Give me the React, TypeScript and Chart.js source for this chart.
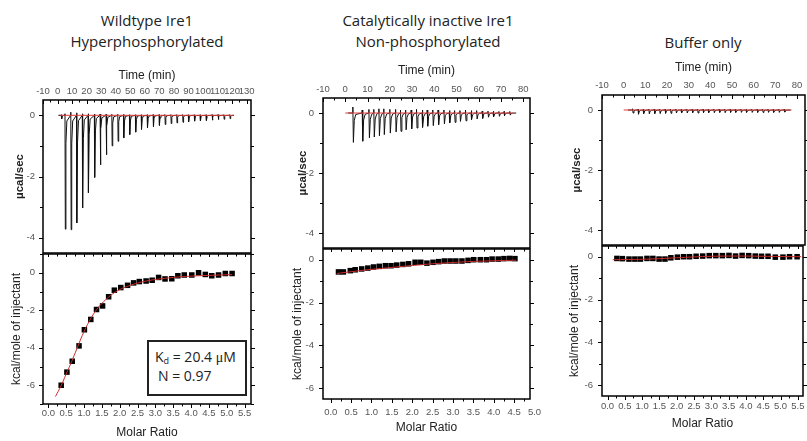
import React, { useEffect, useRef } from 'react';
import { Chart, registerables } from 'chart.js';

Chart.register(...registerables);

// ---------------- DATA ----------------
// Panel 1: Wildtype Ire1, hyperphosphorylated
const P1_TIMES = [2.6, 5, 9, 13, 17, 21, 25.3, 29.1, 33.2, 37.2, 41.3, 45.3, 49.4, 53.5, 57.5, 61.6, 65.6, 69.7, 73.7, 77.8, 81.8, 85.9, 89.9, 94, 98, 102.1, 106.1, 110.2, 114.2, 118.3];
const P1_PEAKS = [-0.12, -3.72, -3.74, -3.52, -3.03, -2.53, -2.03, -1.62, -1.29, -1.0, -0.85, -0.74, -0.63, -0.55, -0.46, -0.41, -0.37, -0.33, -0.3, -0.27, -0.25, -0.23, -0.21, -0.19, -0.18, -0.17, -0.16, -0.14, -0.13, -0.11];
const P1_BLIPS = [0.02, 0.05, 0.1, 0.08, 0.05, 0.05, 0.04, 0.04, 0.03, 0.03, 0.03, 0.03, 0.02, 0.02, 0.02, 0.02, 0.02, 0.02, 0.02, 0.02, 0.02, 0.02, 0.02, 0.02, 0.02, 0.02, 0.02, 0.02, 0.02, 0.02];
const P1_BASE = [2, 121];
const P1_MR = [0.36, 0.52, 0.67, 0.86, 1.01, 1.19, 1.35, 1.52, 1.69, 1.85, 2.03, 2.22, 2.39, 2.55, 2.74, 2.91, 3.09, 3.27, 3.46, 3.63, 3.81, 4.02, 4.21, 4.4, 4.58, 4.77, 4.96, 5.15];
const P1_HEAT = [-6.0, -5.3, -4.72, -3.9, -3.04, -2.49, -1.96, -1.77, -1.28, -0.93, -0.79, -0.67, -0.54, -0.47, -0.44, -0.4, -0.25, -0.33, -0.32, -0.16, -0.12, -0.12, 0.0, -0.09, -0.16, -0.12, -0.04, -0.04];
const P1_FIT_X = [0.2, 0.35, 0.5, 0.65, 0.8, 0.95, 1.1, 1.25, 1.4, 1.6, 1.8, 2.0, 2.25, 2.5, 2.75, 3.0, 3.5, 4.0, 4.5, 5.15];
const P1_FIT_Y = [-6.6, -6.05, -5.4, -4.75, -4.05, -3.35, -2.75, -2.25, -1.85, -1.45, -1.13, -0.9, -0.7, -0.55, -0.44, -0.36, -0.25, -0.18, -0.14, -0.1];

// Panel 2: Catalytically inactive Ire1, non-phosphorylated
const P2_TIMES = [3.3, 7.5, 10.5, 12.7, 15, 17.2, 19.9, 22.5, 24.7, 27, 29.5, 31.9, 34.5, 36.7, 39.2, 41.6, 44.2, 46.7, 49, 51.4, 53.9, 56.5, 58.9, 61.4, 64, 66.4, 68.9, 71.2, 73.8];
const P2_PEAKS = [-0.98, -0.94, -0.83, -0.8, -0.76, -0.72, -0.67, -0.63, -0.61, -0.56, -0.53, -0.5, -0.48, -0.44, -0.42, -0.39, -0.36, -0.33, -0.31, -0.28, -0.26, -0.22, -0.2, -0.18, -0.14, -0.13, -0.11, -0.09, -0.07];
const P2_BLIPS = [0.2, 0.1, 0.12, 0.12, 0.14, 0.14, 0.12, 0.12, 0.1, 0.1, 0.1, 0.12, 0.1, 0.1, 0.1, 0.1, 0.1, 0.08, 0.08, 0.08, 0.1, 0.08, 0.08, 0.06, 0.06, 0.06, 0.05, 0.05, 0.05];
const P2_BASE = [0, 75.5];
const P2_MR = [0.19, 0.31, 0.48, 0.6, 0.76, 0.91, 1.05, 1.19, 1.34, 1.48, 1.62, 1.77, 1.91, 2.07, 2.21, 2.36, 2.51, 2.65, 2.79, 2.93, 3.07, 3.22, 3.37, 3.51, 3.67, 3.82, 3.96, 4.11, 4.25, 4.39, 4.52];
const P2_HEAT = [-0.57, -0.57, -0.51, -0.47, -0.43, -0.39, -0.34, -0.31, -0.28, -0.28, -0.25, -0.22, -0.19, -0.12, -0.12, -0.16, -0.12, -0.09, -0.06, -0.06, -0.06, -0.06, -0.03, 0.0, 0.0, 0.0, 0.03, 0.03, 0.05, 0.06, 0.05];
const P2_FIT_X = [0.15, 0.5, 1.0, 1.5, 2.0, 2.5, 3.0, 3.5, 4.0, 4.55];
const P2_FIT_Y = [-0.64, -0.56, -0.45, -0.36, -0.27, -0.19, -0.13, -0.08, -0.05, -0.02];

// Panel 3: Buffer only
const P3_TIMES = [4.0, 6.5, 9.0, 11.5, 14.0, 16.5, 19.0, 21.5, 24.0, 26.5, 29.0, 31.5, 34.0, 36.5, 39.0, 41.5, 44.0, 46.5, 49.0, 51.5, 54.0, 56.5, 59.0, 61.5, 64.0, 66.5, 69.0, 71.5, 74.0];
const P3_PEAKS = [-0.1, -0.14, -0.12, -0.13, -0.12, -0.12, -0.11, -0.11, -0.1, -0.1, -0.1, -0.09, -0.1, -0.09, -0.09, -0.09, -0.08, -0.09, -0.08, -0.08, -0.08, -0.08, -0.08, -0.08, -0.08, -0.08, -0.08, -0.08, -0.07];
const P3_BLIPS = [0.04, 0.03, 0.03, 0.03, 0.03, 0.03, 0.03, 0.03, 0.03, 0.03, 0.03, 0.03, 0.03, 0.03, 0.03, 0.03, 0.03, 0.03, 0.03, 0.03, 0.03, 0.03, 0.03, 0.03, 0.03, 0.03, 0.03, 0.03, 0.03];
const P3_BASE = [0, 77.5];
const P3_MR = [0.27, 0.43, 0.62, 0.79, 0.95, 1.14, 1.31, 1.49, 1.66, 1.83, 2.02, 2.2, 2.37, 2.56, 2.75, 2.94, 3.13, 3.32, 3.51, 3.7, 3.89, 4.08, 4.27, 4.45, 4.64, 4.85, 5.07, 5.26, 5.48];
const P3_HEAT = [-0.08, -0.09, -0.11, -0.11, -0.11, -0.08, -0.08, -0.11, -0.11, -0.05, -0.02, 0, 0, 0.02, 0.03, 0.05, 0.05, 0.05, 0.06, 0.03, 0.06, 0.05, 0.03, 0.02, 0.02, -0.02, -0.02, 0, 0];
const P3_FIT_X = [0.15, 0.6, 1.0, 1.5, 2.0, 2.5, 3.0, 3.5, 4.0, 4.5, 5.0, 5.6];
const P3_FIT_Y = [-0.14, -0.13, -0.12, -0.09, -0.05, -0.01, 0.02, 0.03, 0.03, 0.02, 0.01, 0.0];

// Tick labels
const TIME_TICKS_130 = [-10, 0, 10, 20, 30, 40, 50, 60, 70, 80, 90, 100, 110, 120, 130];
const TIME_TICKS_80 = [-10, 0, 10, 20, 30, 40, 50, 60, 70, 80];
const RAW_TICKS = [-4, -2, 0];
const HEAT_TICKS = [-6, -4, -2, 0];
const MR_TICKS_55 = [0, 0.5, 1, 1.5, 2, 2.5, 3, 3.5, 4, 4.5, 5, 5.5];
const MR_TICKS_50 = [0, 0.5, 1, 1.5, 2, 2.5, 3, 3.5, 4, 4.5, 5];

// ---------------- helpers ----------------
const SANS = '"Liberation Sans", Arial, sans-serif';
const TICK_SIZE = 9.5;
const TITLE_SIZE = 12;
const TICK_LH = TICK_SIZE * 1.2;
const TITLE_LH = TITLE_SIZE * 1.2;

function buildTrace(times: number[], peaks: number[], blips: number[]) {
  const pts: { x: number; y: number }[] = [{ x: times[0] - 2, y: 0 }];
  times.forEach((t, i) => {
    pts.push({ x: t, y: 0 });
    pts.push({ x: t + 0.12, y: blips[i] });
    pts.push({ x: t + 0.35, y: peaks[i] });
    pts.push({ x: t + 0.75, y: peaks[i] * 0.25 });
    pts.push({ x: t + 1.4, y: peaks[i] * 0.05 });
  });
  pts.push({ x: times[times.length - 1] + 3, y: 0 });
  return pts;
}

function zipXY(xs: number[], ys: number[]) {
  return xs.map((x, i) => ({ x, y: ys[i] }));
}

type Side = { side: 'top' | 'bottom' | 'left' | 'right'; axis: 'x' | 'y'; step: number; dir: 'in' | 'out'; major: number; minor: number };

const framePlugin = {
  id: 'originFrame',
  afterDraw(chart: any, _args: any, opts: any) {
    const { ctx, chartArea: a } = chart;
    ctx.save();
    ctx.strokeStyle = '#000';
    ctx.lineWidth = 1;
    (opts.sides as Side[]).forEach((s) => {
      const scale = chart.scales[s.axis];
      const majors = scale.ticks.map((t: any) => t.value);
      const start = Math.ceil((scale.min - 1e-9) / s.step);
      const end = Math.floor((scale.max + 1e-9) / s.step);
      ctx.beginPath();
      for (let k = start; k <= end; k++) {
        const v = k * s.step;
        const isMajor = majors.some((m: number) => Math.abs(m - v) < 1e-6);
        const len = isMajor ? s.major : s.minor;
        const p = Math.round(scale.getPixelForValue(v)) + 0.5;
        const sign = s.dir === 'in' ? 1 : -1;
        if (s.side === 'top') { ctx.moveTo(p, a.top); ctx.lineTo(p, a.top + sign * len); }
        if (s.side === 'bottom') { ctx.moveTo(p, a.bottom); ctx.lineTo(p, a.bottom - sign * len); }
        if (s.side === 'left') { ctx.moveTo(a.left, p); ctx.lineTo(a.left + sign * len, p); }
        if (s.side === 'right') { ctx.moveTo(a.right, p); ctx.lineTo(a.right - sign * len, p); }
      }
      ctx.stroke();
    });
    ctx.lineWidth = 1.5;
    ctx.strokeRect(a.left, a.top, a.right - a.left, a.bottom - a.top);
    ctx.restore();
  },
};

interface Spec {
  canvas: { left: number; top: number; width: number; height: number };
  area: { left: number; top: number; right: number; bottom: number };
  x: { min: number; max: number; ticks: number[]; pos: 'top' | 'bottom'; title: string; titleCenter: number; labelCenter: number; decimals: number };
  y: { min: number; max: number; ticks: number[]; title: string; titleCenter: number; labelPad: number; bold: boolean };
  sides: Side[];
  datasets: any[];
}

function zeroPad(sc: any) {
  sc.paddingTop = 0;
  sc.paddingBottom = 0;
  sc.paddingLeft = 0;
  sc.paddingRight = 0;
}

function buildConfig(s: Spec): any {
  const c = s.canvas;
  const a = s.area;
  const cBottom = c.top + c.height;
  const cRight = c.left + c.width;
  const top = s.x.pos === 'top';
  const xH = top ? a.top - c.top : cBottom - a.bottom;
  const yW = a.left - c.left;
  const xLabelPad = top ? a.top - s.x.labelCenter - TICK_LH / 2 : s.x.labelCenter - a.bottom - TICK_LH / 2;
  const xTitlePad = top
    ? { top: s.x.titleCenter - c.top - TITLE_LH / 2, bottom: 0 }
    : { top: 0, bottom: cBottom - s.x.titleCenter - TITLE_LH / 2 };
  const yTitlePad = { top: s.y.titleCenter - c.left - TITLE_LH / 2, bottom: 0 };
  return {
    type: 'scatter',
    data: { datasets: s.datasets },
    plugins: [framePlugin],
    options: {
      animation: false,
      responsive: false,
      devicePixelRatio: 1,
      layout: {
        padding: {
          left: 0,
          top: top ? 0 : a.top - c.top,
          bottom: top ? cBottom - a.bottom : 0,
          right: cRight - a.right,
        },
      },
      plugins: {
        legend: { display: false },
        tooltip: { enabled: false },
        originFrame: { sides: s.sides },
      },
      scales: {
        x: {
          type: 'linear',
          position: s.x.pos,
          min: s.x.min,
          max: s.x.max,
          afterBuildTicks: (sc: any) => { sc.ticks = s.x.ticks.map((v) => ({ value: v })); },
          afterFit: (sc: any) => { sc.height = xH; zeroPad(sc); },
          grid: { display: false, drawTicks: false },
          border: { display: false },
          ticks: {
            autoSkip: false,
            maxRotation: 0,
            minRotation: 0,
            padding: xLabelPad,
            color: '#555',
            font: { family: SANS, size: TICK_SIZE },
            callback: (v: number) => (s.x.decimals ? Number(v).toFixed(s.x.decimals) : String(v)),
          },
          title: {
            display: true,
            text: s.x.title,
            color: '#222',
            font: { family: SANS, size: TITLE_SIZE },
            padding: xTitlePad,
          },
        },
        y: {
          type: 'linear',
          position: 'left',
          min: s.y.min,
          max: s.y.max,
          afterBuildTicks: (sc: any) => { sc.ticks = s.y.ticks.map((v) => ({ value: v })); },
          afterFit: (sc: any) => { sc.width = yW; zeroPad(sc); },
          grid: { display: false, drawTicks: false },
          border: { display: false },
          ticks: {
            padding: s.y.labelPad,
            color: '#555',
            font: { family: SANS, size: TICK_SIZE },
            callback: (v: number) => String(v),
          },
          title: {
            display: true,
            text: s.y.title,
            color: '#222',
            font: { family: SANS, size: s.y.bold ? 11.5 : TITLE_SIZE, weight: s.y.bold ? 'bold' : 'normal' },
            padding: yTitlePad,
          },
        },
      },
    },
  };
}

function Plot({ spec }: { spec: Spec }) {
  const ref = useRef<HTMLCanvasElement>(null);
  useEffect(() => {
    const chart = new Chart(ref.current as HTMLCanvasElement, buildConfig(spec));
    return () => chart.destroy();
  }, []);
  const c = spec.canvas;
  return (
    <canvas
      ref={ref}
      width={c.width}
      height={c.height}
      style={{ position: 'absolute', left: c.left, top: c.top, width: c.width, height: c.height }}
    />
  );
}

const RED_BASE = '#e23b3b';
const RED_FIT = '#cc2b2b';

function rawDatasets(times: number[], peaks: number[], blips: number[], base: number[]) {
  return [
    { data: [{ x: base[0], y: 0 }, { x: base[1], y: 0 }], showLine: true, borderColor: RED_BASE, borderWidth: 1, pointRadius: 0 },
    { data: buildTrace(times, peaks, blips), showLine: true, borderColor: '#111', borderWidth: 1, pointRadius: 0, tension: 0 },
  ];
}

function heatDatasets(mr: number[], heat: number[], fx: number[], fy: number[]) {
  return [
    { data: zipXY(fx, fy), showLine: true, borderColor: RED_FIT, borderWidth: 1, pointRadius: 0, tension: 0.4 },
    { data: zipXY(mr, heat), showLine: false, pointStyle: 'rect', pointRadius: 3.9, backgroundColor: '#000', borderColor: '#000', borderWidth: 0 },
  ];
}

const topSides = (): Side[] => [
  { side: 'top', axis: 'x', step: 5, dir: 'in', major: 4, minor: 2.5 },
  { side: 'left', axis: 'y', step: 1, dir: 'out', major: 4, minor: 3 },
  { side: 'right', axis: 'y', step: 1, dir: 'out', major: 4, minor: 3 },
];
const bottomSides = (): Side[] => [
  { side: 'top', axis: 'x', step: 0.25, dir: 'in', major: 3, minor: 2.5 },
  { side: 'bottom', axis: 'x', step: 0.25, dir: 'out', major: 4, minor: 2.5 },
  { side: 'left', axis: 'y', step: 1, dir: 'out', major: 4, minor: 3 },
  { side: 'right', axis: 'y', step: 1, dir: 'out', major: 4, minor: 3 },
];

const SPECS: Spec[] = [
  // Panel 1 top
  {
    canvas: { left: 0, top: 60, width: 270, height: 200 },
    area: { left: 43, top: 100, right: 251, bottom: 253 },
    x: { min: -10, max: 133, ticks: TIME_TICKS_130, pos: 'top', title: 'Time (min)', titleCenter: 76, labelCenter: 91.5, decimals: 0 },
    y: { min: -4.5, max: 0.5, ticks: RAW_TICKS, title: 'µcal/sec', titleCenter: 20, labelPad: 8, bold: true },
    sides: topSides(),
    datasets: rawDatasets(P1_TIMES, P1_PEAKS, P1_BLIPS, P1_BASE),
  },
  // Panel 1 bottom
  {
    canvas: { left: 0, top: 250, width: 270, height: 191 },
    area: { left: 43, top: 253, right: 251, bottom: 404 },
    x: { min: -0.15, max: 5.68, ticks: MR_TICKS_55, pos: 'bottom', title: 'Molar Ratio', titleCenter: 433, labelCenter: 413, decimals: 1 },
    y: { min: -7, max: 1, ticks: HEAT_TICKS, title: 'kcal/mole of injectant', titleCenter: 17, labelPad: 8, bold: false },
    sides: bottomSides(),
    datasets: heatDatasets(P1_MR, P1_HEAT, P1_FIT_X, P1_FIT_Y),
  },
  // Panel 2 top
  {
    canvas: { left: 280, top: 55, width: 260, height: 200 },
    area: { left: 323, top: 98, right: 530, bottom: 248 },
    x: { min: -10, max: 83, ticks: TIME_TICKS_80, pos: 'top', title: 'Time (min)', titleCenter: 71, labelCenter: 89, decimals: 0 },
    y: { min: -4.5, max: 0.5, ticks: RAW_TICKS, title: 'µcal/sec', titleCenter: 303, labelPad: 9, bold: true },
    sides: topSides(),
    datasets: rawDatasets(P2_TIMES, P2_PEAKS, P2_BLIPS, P2_BASE),
  },
  // Panel 2 bottom
  {
    canvas: { left: 280, top: 245, width: 265, height: 196 },
    area: { left: 323, top: 248, right: 530, bottom: 399 },
    x: { min: -0.19, max: 4.89, ticks: MR_TICKS_50, pos: 'bottom', title: 'Molar Ratio', titleCenter: 428, labelCenter: 412, decimals: 1 },
    y: { min: -6.5, max: 0.5, ticks: HEAT_TICKS, title: 'kcal/mole of injectant', titleCenter: 298, labelPad: 9, bold: false },
    sides: bottomSides(),
    datasets: heatDatasets(P2_MR, P2_HEAT, P2_FIT_X, P2_FIT_Y),
  },
  // Panel 3 top
  {
    canvas: { left: 560, top: 52, width: 247, height: 200 },
    area: { left: 602, top: 95, right: 805, bottom: 245 },
    x: { min: -10, max: 83.7, ticks: TIME_TICKS_80, pos: 'top', title: 'Time (min)', titleCenter: 68, labelCenter: 85, decimals: 0 },
    y: { min: -4.5, max: 0.5, ticks: RAW_TICKS, title: 'µcal/sec', titleCenter: 577, labelPad: 9, bold: true },
    sides: topSides(),
    datasets: rawDatasets(P3_TIMES, P3_PEAKS, P3_BLIPS, P3_BASE),
  },
  // Panel 3 bottom
  {
    canvas: { left: 560, top: 242, width: 247, height: 199 },
    area: { left: 602, top: 245, right: 805, bottom: 396 },
    x: { min: -0.16, max: 5.65, ticks: MR_TICKS_55, pos: 'bottom', title: 'Molar Ratio', titleCenter: 424, labelCenter: 406.5, decimals: 1 },
    y: { min: -6.5, max: 0.5, ticks: HEAT_TICKS, title: 'kcal/mole of injectant', titleCenter: 575, labelPad: 9, bold: false },
    sides: bottomSides(),
    datasets: heatDatasets(P3_MR, P3_HEAT, P3_FIT_X, P3_FIT_Y),
  },
];

const TITLE_FONT = '"Open Sans", "Noto Sans", sans-serif';

function PanelTitle({ cx, cy, text }: { cx: number; cy: number; text: string }) {
  return (
    <div
      style={{
        position: 'absolute',
        left: cx - 150,
        top: cy - 11,
        width: 300,
        height: 22,
        lineHeight: '22px',
        textAlign: 'center',
        fontFamily: TITLE_FONT,
        fontSize: 15,
        color: '#222',
        whiteSpace: 'nowrap',
      }}
    >
      {text}
    </div>
  );
}

export default function App() {
  return (
    <div style={{ position: 'absolute', left: 0, top: 0, width: 807, height: 441, overflow: 'hidden', background: '#fff' }}>
      <PanelTitle cx={147} cy={20} text="Wildtype Ire1" />
      <PanelTitle cx={147} cy={41} text="Hyperphosphorylated" />
      <PanelTitle cx={428} cy={20} text="Catalytically inactive Ire1" />
      <PanelTitle cx={428} cy={41} text="Non-phosphorylated" />
      <PanelTitle cx={703} cy={42} text="Buffer only" />
      {SPECS.map((s, i) => (
        <Plot key={i} spec={s} />
      ))}
      <div
        style={{
          position: 'absolute',
          left: 147,
          top: 340,
          width: 100,
          height: 56,
          boxSizing: 'border-box',
          border: '2px solid #222',
          background: '#fff',
          fontFamily: TITLE_FONT,
          fontSize: 14,
          color: '#222',
        }}
      >
        <div style={{ position: 'absolute', left: 6, top: 6, lineHeight: '18px', whiteSpace: 'nowrap' }}>
          K<sub style={{ fontSize: 9, verticalAlign: '-2px' }}>d</sub> = 20.4{' '}
          <span style={{ fontFamily: '"Liberation Serif", serif' }}>μ</span>M
        </div>
        <div style={{ position: 'absolute', left: 9, top: 25, lineHeight: '18px', whiteSpace: 'nowrap' }}>N = 0.97</div>
      </div>
    </div>
  );
}
